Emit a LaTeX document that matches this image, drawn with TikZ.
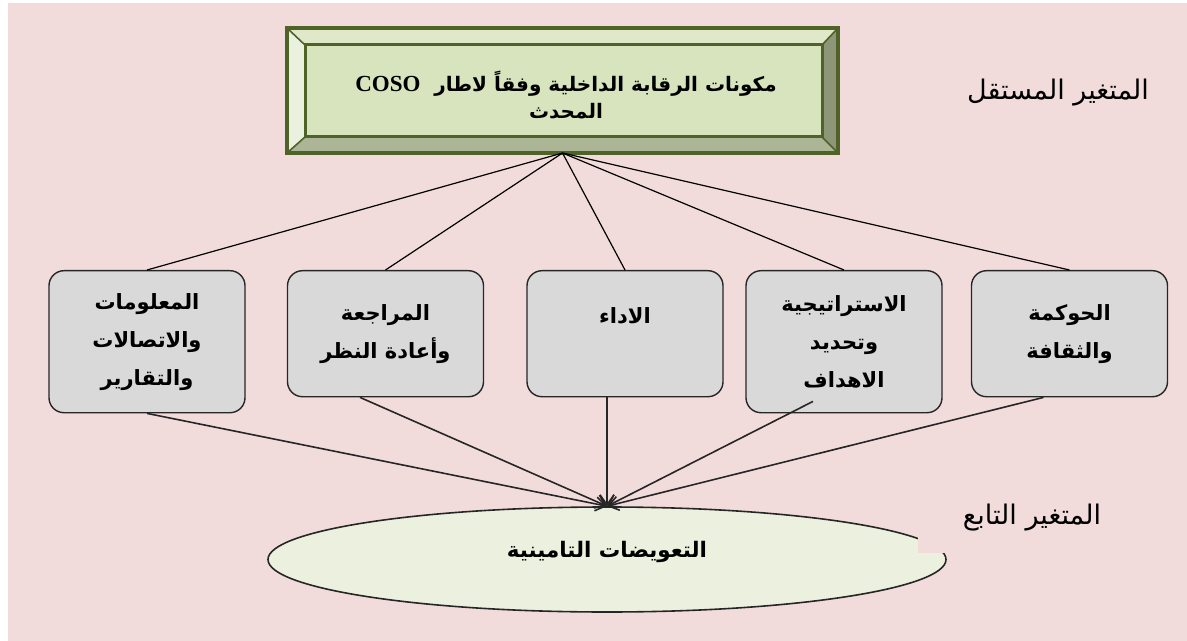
\documentclass[tikz,border=0pt]{standalone}
\usepackage{fontspec}
\usepackage{xcolor}
\setmainfont{Liberation Serif}
\newfontfamily\arabicfont[Script=Arabic]{DejaVu Sans}
\usetikzlibrary{shapes.geometric, arrows.meta}
\TeXXeTstate=1

\definecolor{bgpink}{HTML}{F2DCDB}
\definecolor{boxgray}{HTML}{D9D9D9}
\definecolor{ellfill}{HTML}{EBF1DE}
\definecolor{olivedark}{HTML}{4F6228}
\definecolor{innergreen}{HTML}{D7E4BD}
\definecolor{bevtop}{HTML}{DFE8C8}
\definecolor{bevleft}{HTML}{EBF1DF}
\definecolor{bevbot}{HTML}{ACB596}
\definecolor{bevright}{HTML}{8E9679}

\tikzset{
  compbox/.style={draw=black!85, line width=0.7pt, fill=boxgray, rounded corners=7.5pt,
    minimum width=98pt, anchor=north, align=center,
    font=\arabicfont\bfseries\fontsize{10.5}{19}\selectfont},
  upline/.style={line width=0.6pt, draw=black},
  downarrow/.style={line width=0.8pt, draw=black!85, -{Straight Barb[length=5pt,width=7pt]}},
  varlabel/.style={font=\arabicfont\fontsize{13.5}{15}\selectfont, inner sep=0pt}
}

\begin{document}
\begin{tikzpicture}[x=0.5pt, y=-0.5pt]

\useasboundingbox (0,0) rectangle (1187,641);
\fill[white] (0,0) rectangle (1187,641);
\fill[bgpink] (8,3) rectangle (1187,641);

\fill[innergreen] (287,28) rectangle (838,153);
\fill[bevtop] (287,28)--(838,28)--(822,45)--(305,45)--cycle;
\fill[bevleft] (287,28)--(305,45)--(305,137)--(287,153)--cycle;
\fill[bevbot] (287,153)--(305,137)--(822,137)--(838,153)--cycle;
\fill[bevright] (838,28)--(822,45)--(822,137)--(838,153)--cycle;
\draw[olivedark, line width=0.8pt] (287,28)--(305,45) (838,28)--(822,45)
  (287,153)--(305,137) (838,153)--(822,137);
\draw[olivedark, line width=1.5pt] (305,45) rectangle (822,137);
\draw[olivedark, line width=1.8pt] (287,28) rectangle (838,153);

\coordinate (cosobot) at (562.5,153);
\node[align=center, font=\arabicfont\bfseries\fontsize{10}{13.5}\selectfont] (title) at (566,95)
  {\beginR مكونات الرقابة الداخلية وفقاً لاطار\ \ \beginL{\rmfamily\bfseries\fontsize{11.5}{13.5}\selectfont COSO}\endL\endR\\
   \beginR المحدث\endR};

\node[compbox, minimum height=71pt] (b1) at (147,270)
  {\beginR المعلومات\endR\\ \beginR والاتصالات\endR\\ \beginR والتقارير\endR};
\node[compbox, minimum height=63pt] (b2) at (385.5,270)
  {\beginR المراجعة\endR\\ \beginR وأعادة النظر\endR};
\node[compbox, minimum height=63pt, text depth=18pt] (b3) at (625,270)
  {\beginR الاداء\endR};
\node[compbox, minimum height=71pt] (b4) at (844,270)
  {\beginR الاستراتيجية\endR\\ \beginR وتحديد\endR\\ \beginR الاهداف\endR};
\node[compbox, minimum height=63pt] (b5) at (1069.5,270)
  {\beginR الحوكمة\endR\\ \beginR والثقافة\endR};

\draw[upline] (cosobot)--(b1.north);
\draw[upline] (cosobot)--(b2.north);
\draw[upline] (cosobot)--(b3.north);
\draw[upline] (cosobot)--(b4.north);
\draw[upline] (cosobot)--(b5.north);

\node[ellipse, draw=black!85, line width=0.8pt, fill=ellfill, minimum width=339pt,
  minimum height=52.5pt, inner sep=0pt, text depth=10pt,
  font=\arabicfont\bfseries\fontsize{10.7}{12}\selectfont] (ell) at (607,559.5)
  {\beginR التعويضات التامينية\endR};

\draw[downarrow] (b1.south)--(ell.north);
\draw[downarrow] ([xshift=-12.75pt]b2.south)--(ell.north);
\draw[downarrow] ([xshift=-9pt]b3.south)--(ell.north);
\draw[downarrow] ([xshift=-15.5pt, yshift=6pt]b4.south)--(ell.north);
\draw[downarrow] ([xshift=-13pt]b5.south)--(ell.north);

\node[varlabel] (indep) at (1058,93) {\beginR المتغير المستقل\endR};
\node[varlabel, fill=bgpink, minimum width=114pt, minimum height=35pt] (dep) at (1032,518)
  {\beginR المتغير التابع\endR};

\end{tikzpicture}
\end{document}
